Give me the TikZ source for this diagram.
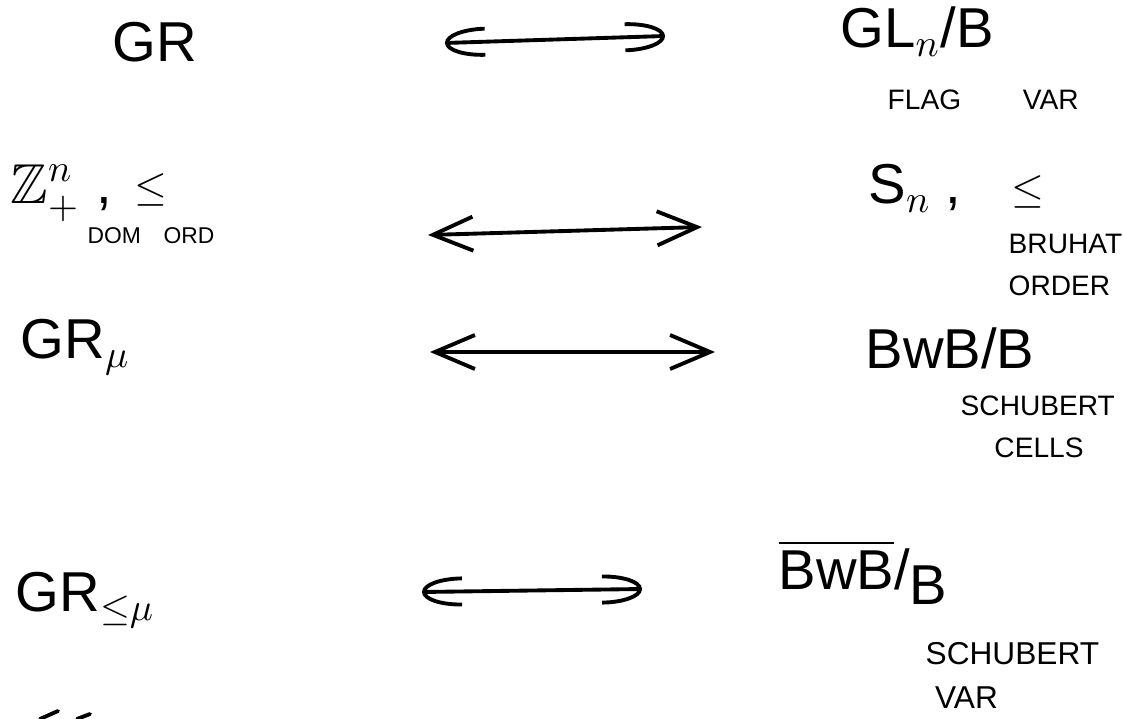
\documentclass[tikz,border=0pt]{standalone}
\usepackage{amsmath,amssymb}
\usepackage{fontspec}
\setmainfont{Liberation Sans}
\usetikzlibrary{arrows.meta, positioning}

\begin{document}
\begin{tikzpicture}[
    x=1cm, y=-1cm,
    obj/.style={inner sep=0pt, font=\fontsize{16}{19}\selectfont},
    rel/.style={inner sep=0pt, font=\fontsize{12}{14}\selectfont},
    note/.style={inner sep=0pt, font=\fontsize{8}{12}\selectfont, align=left},
    bij/.style={{Arc Barb[length=4mm, width=3mm]}-{Arc Barb[length=4mm, width=3mm]}, line width=1.1pt},
    bijv/.style={{Straight Barb[length=4mm, width=3.4mm]}-{Straight Barb[length=4mm, width=3.4mm]}, line width=1.1pt}
]
\useasboundingbox (0,0) rectangle (11.23,7.19);

% Nodes
\node[obj, anchor=west] (gr) at (1.12,0.42) {GR};
\node[obj, anchor=west] (glb) at (8.4,0.32) {GL$_n$/B};
\node[note, anchor=west] (flag) at (8.87,1.0) {FLAG\hspace{2.2em}VAR};

\node[obj, anchor=west] (zn) at (0.1,1.93) {$\mathbb{Z}^n_+$\hspace{0.3em},};
\node[rel] (znle) at (1.51,1.90) {$\leq$};
\node[note, font=\fontsize{6.5}{8}\selectfont, below=0.2cm of znle] (dom) {DOM\hspace{1em}ORD};

\node[obj, anchor=west] (sn) at (8.68,1.88) {S$_n$\hspace{0.25em},};
\node[rel] (snle) at (10.28,1.92) {$\leq$};
\node[note, anchor=north west] (bruhat) at (10.08,2.33) {BRUHAT\\ORDER};

\node[obj, anchor=west] (grmu) at (0.2,3.47) {GR$_\mu$};
\node[obj, anchor=west] (bwb) at (8.65,3.48) {BwB/B};
\node[note, anchor=north west] (cells) at (9.6,3.95) {SCHUBERT\\\hspace{1.2em}CELLS};

\node[obj, anchor=west] (grle) at (0.15,6.0) {GR$_{\leq\mu}$};
\node[obj, anchor=west] (bwbbar) at (7.78,5.72) {$\overline{\mbox{BwB}}$/\raisebox{-0.5ex}{B}};
\node[note, font=\fontsize{9}{12.5}\selectfont, anchor=north west] (var) at (9.25,6.42) {SCHUBERT\\\hspace{0.3em}VAR};

% Arrows
\coordinate (a1) at (4.45,0.43);
\coordinate (b1) at (6.65,0.36);
\coordinate (a2) at (4.28,2.35);
\coordinate (b2) at (7.02,2.27);
\coordinate (a3) at (4.3,3.52);
\coordinate (b3) at (7.15,3.52);
\coordinate (a4) at (4.22,5.92);
\coordinate (b4) at (6.42,5.89);
\draw[bij] (a1) -- (b1);
\draw[bijv] (a2) -- (b2);
\draw[bijv] (a3) -- (b3);
\draw[bij] (a4) -- (b4);

% cut-off strokes at the lower edge
\draw[line width=1.1pt, line cap=round] (0.40,7.19) -- (0.58,7.11) (0.77,7.19) -- (0.90,7.14);

\end{tikzpicture}
\end{document}
